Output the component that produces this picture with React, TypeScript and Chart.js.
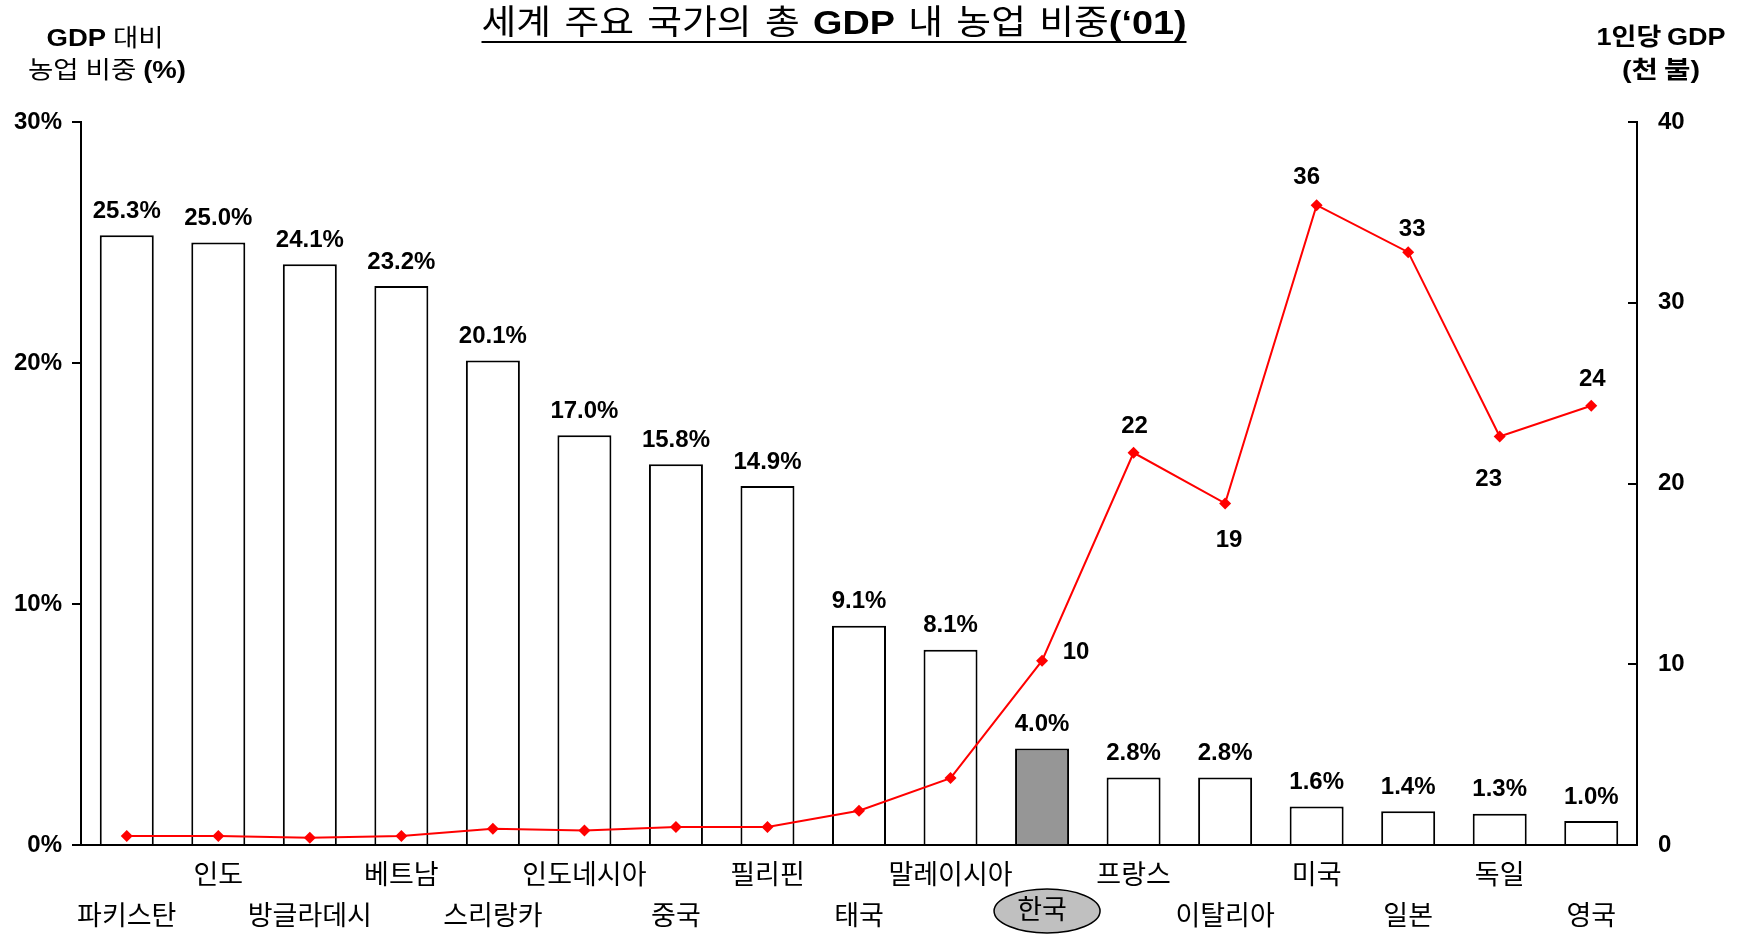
import React, { useEffect, useRef } from 'react';
import { Chart, registerables } from 'chart.js';

Chart.register(...registerables);

// ---------- data ----------
const countries = ['파키스탄', '인도', '방글라데시', '베트남', '스리랑카', '인도네시아', '중국', '필리핀', '태국', '말레이시아', '한국', '프랑스', '이탈리아', '미국', '일본', '독일', '영국'];
const agriShare = [25.3, 25.0, 24.1, 23.2, 20.1, 17.0, 15.8, 14.9, 9.1, 8.1, 4.0, 2.8, 2.8, 1.6, 1.4, 1.3, 1.0];
const gdpPerCapita = [0.5, 0.5, 0.4, 0.5, 0.9, 0.8, 1.0, 1.0, 1.9, 3.7, 10.2, 21.7, 18.9, 35.4, 32.8, 22.6, 24.3];
const gdpLabels = ['', '', '', '', '', '', '', '', '', '', '10', '22', '19', '36', '33', '23', '24'];
const leftTickStep = 10;
const leftMax = 30;
const rightTickValues = [0, 10, 20, 30, 40];
const highlightIndex = 10;

// ---------- style ----------
const LATIN = "'Liberation Sans', Arial, 'Noto Sans CJK KR', sans-serif";
const KR = "'Noto Sans CJK KR', 'Liberation Sans', sans-serif";
const MIXED = "'Liberation Sans', 'Noto Sans CJK KR', sans-serif";

type Seg = { t: string; b?: boolean; g?: number };

function drawSegs(ctx: CanvasRenderingContext2D, segs: Seg[], cx: number, cy: number, size: number, gapPx: number, targetW: number) {
  ctx.save();
  ctx.textBaseline = 'middle';
  ctx.textAlign = 'left';
  ctx.fillStyle = '#000';
  const widths = segs.map((s) => {
    ctx.font = `${s.b ? 'bold ' : ''}${size}px ${MIXED}`;
    return ctx.measureText(s.t).width;
  });
  let natural = 0;
  segs.forEach((s, i) => { natural += widths[i] + (i > 0 ? (s.g ?? 1) * gapPx : 0); });
  const sx = targetW / natural;
  const left = cx - targetW / 2;
  ctx.translate(left, cy);
  ctx.scale(sx, 1);
  let x = 0;
  segs.forEach((s, i) => {
    if (i > 0) x += (s.g ?? 1) * gapPx;
    ctx.font = `${s.b ? 'bold ' : ''}${size}px ${MIXED}`;
    ctx.fillText(s.t, x, 0);
    x += widths[i];
  });
  ctx.restore();
  return { left, right: left + targetW };
}

const lineLabelOffsets: Record<number, [number, number]> = {
  10: [34, -8], 11: [1, -26], 12: [4, 37], 13: [-10, -28], 14: [4, -23], 15: [-11, 43], 16: [1, -26],
};

const decorPlugin = {
  id: 'decor',
  afterDraw(chart: any) {
    const ctx: CanvasRenderingContext2D = chart.ctx;
    const xs = chart.scales.x;
    const y1 = chart.scales.y1;
    const area = chart.chartArea;

    // right axis inward ticks
    ctx.save();
    ctx.strokeStyle = '#000';
    ctx.lineWidth = 2;
    rightTickValues.forEach((v) => {
      const y = Math.round(y1.getPixelForValue(v));
      ctx.beginPath();
      ctx.moveTo(area.right, y);
      ctx.lineTo(area.right - 9, y);
      ctx.stroke();
    });
    ctx.restore();

    // bar value labels
    ctx.save();
    ctx.font = `bold 24px ${LATIN}`;
    ctx.fillStyle = '#000';
    ctx.textAlign = 'center';
    ctx.textBaseline = 'middle';
    const barMeta = chart.getDatasetMeta(0);
    barMeta.data.forEach((el: any, i: number) => {
      ctx.fillText(agriShare[i].toFixed(1) + '%', el.x, el.y - 24);
    });
    // line value labels
    const lineMeta = chart.getDatasetMeta(1);
    lineMeta.data.forEach((el: any, i: number) => {
      const lbl = gdpLabels[i];
      if (!lbl) return;
      const off = lineLabelOffsets[i] || [0, -26];
      ctx.fillText(lbl, el.x + off[0], el.y + off[1]);
    });
    ctx.restore();

    // x category labels (two staggered rows)
    ctx.save();
    countries.forEach((c, i) => {
      const x = xs.getPixelForTick(i);
      const upper = i % 2 === 1;
      let y = upper ? 874 : 915;
      if (i === highlightIndex) {
        y = 909;
        ctx.beginPath();
        ctx.ellipse(x + 5, 911, 53, 22, 0, 0, Math.PI * 2);
        ctx.fillStyle = '#C0C0C0';
        ctx.fill();
        ctx.lineWidth = 1.5;
        ctx.strokeStyle = '#000';
        ctx.stroke();
      }
      ctx.font = `27px ${KR}`;
      ctx.fillStyle = '#000';
      ctx.textAlign = 'center';
      ctx.textBaseline = 'middle';
      ctx.fillText(c, x, y);
    });
    ctx.restore();

    // title
    const t = drawSegs(ctx, [
      { t: '세계' }, { t: '주요' }, { t: '국가의' }, { t: '총' }, { t: 'GDP', b: true },
      { t: '내' }, { t: '농업' }, { t: '비중' }, { t: '(‘01)', b: true, g: 0 },
    ], 834, 25, 34, 12, 705);
    ctx.save();
    ctx.strokeStyle = '#000';
    ctx.lineWidth = 2;
    ctx.beginPath();
    ctx.moveTo(t.left, 42);
    ctx.lineTo(t.right, 42);
    ctx.stroke();
    ctx.restore();

    // axis titles
    drawSegs(ctx, [{ t: 'GDP', b: true }, { t: '대비' }], 105, 39, 24, 6, 117);
    drawSegs(ctx, [{ t: '농업' }, { t: '비중' }, { t: '(%)', b: true }], 107, 71, 24, 6, 158);
    drawSegs(ctx, [{ t: '1인당', b: true }, { t: 'GDP', b: true }], 1661, 38, 24, 5, 129);
    drawSegs(ctx, [{ t: '(천', b: true }, { t: '불)', b: true }], 1661, 71, 24, 5, 78);
  },
};

export default function App() {
  const ref = useRef<HTMLCanvasElement | null>(null);
  useEffect(() => {
    if (!ref.current) return;
    const chart = new Chart(ref.current, {
      type: 'bar',
      data: {
        labels: countries,
        datasets: [
          {
            type: 'bar',
            label: '농업 비중',
            data: agriShare,
            backgroundColor: agriShare.map((_, i) => (i === highlightIndex ? '#969696' : '#FFFFFF')),
            borderColor: '#000000',
            borderWidth: 2,
            barPercentage: 0.59,
            categoryPercentage: 1,
            yAxisID: 'y',
            order: 2,
          },
          {
            type: 'line',
            label: '1인당 GDP',
            data: gdpPerCapita,
            borderColor: '#FF0000',
            backgroundColor: '#FF0000',
            borderWidth: 2,
            pointStyle: 'rectRot',
            pointRadius: 6,
            pointBorderWidth: 0,
            tension: 0,
            yAxisID: 'y1',
            order: 1,
          } as any,
        ],
      },
      options: {
        responsive: false,
        animation: false,
        devicePixelRatio: 1,
        layout: { padding: { top: 122, bottom: 89, left: 0, right: 0 } },
        plugins: { legend: { display: false }, tooltip: { enabled: false }, title: { display: false } },
        scales: {
          x: {
            ticks: { display: false },
            grid: { display: false, drawTicks: false },
            border: { display: true, color: '#000', width: 2 },
            afterFit: (s: any) => { s.height = 0; },
          },
          y: {
            position: 'left',
            min: 0,
            max: leftMax,
            ticks: {
              stepSize: leftTickStep,
              padding: 10,
              color: '#000',
              font: { family: LATIN, size: 24, weight: 'bold' },
              callback: (v: any) => v + '%',
            },
            grid: { drawOnChartArea: false, drawTicks: true, tickLength: 9, color: '#000', lineWidth: 2 },
            border: { display: true, color: '#000', width: 2 },
            afterFit: (s: any) => { s.width = 81; },
          },
          y1: {
            position: 'right',
            min: 0,
            max: rightTickValues[rightTickValues.length - 1],
            ticks: {
              stepSize: 10,
              padding: 21,
              color: '#000',
              font: { family: LATIN, size: 24, weight: 'bold' },
            },
            grid: { drawOnChartArea: false, drawTicks: false },
            border: { display: true, color: '#000', width: 2 },
            afterFit: (s: any) => { s.width = 105; },
          },
        },
      },
      plugins: [decorPlugin],
    });
    return () => chart.destroy();
  }, []);
  return (
    <div style={{ position: 'absolute', left: 0, top: 0, width: 1742, height: 934, background: '#fff' }}>
      <canvas ref={ref} width={1742} height={934} style={{ display: 'block' }} />
    </div>
  );
}
